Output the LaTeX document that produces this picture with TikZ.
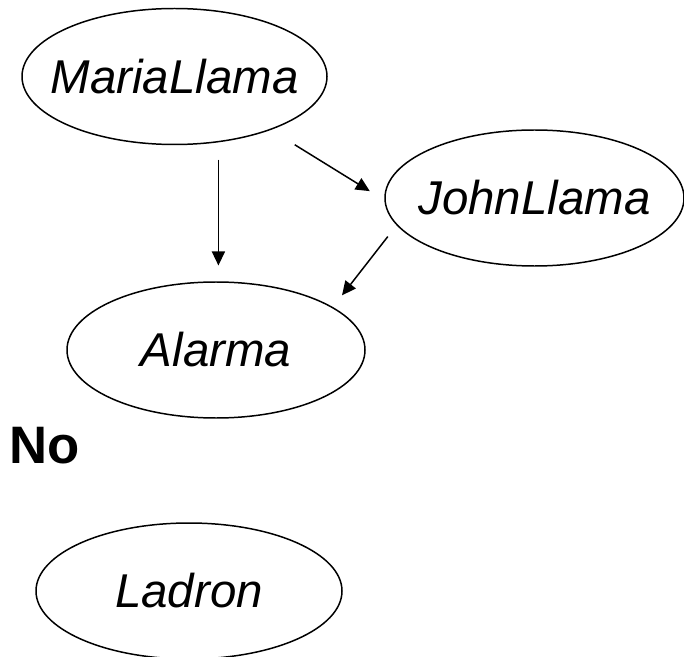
\documentclass[tikz,border=0pt]{standalone}
\usepackage{fontspec}
\setmainfont{Liberation Sans}
\usetikzlibrary{shapes.geometric,arrows.meta}
\tikzset{
  bnode/.style={draw, ellipse, line width=0.85pt, inner xsep=-2.2cm, inner ysep=0pt, outer sep=0pt,
    minimum height=2.72cm, font=\fontsize{27}{32}\selectfont\itshape},
  arr/.style={line width=0.85pt, -{Triangle[length=0.28cm,width=0.26cm]}}
}
\begin{document}
\begin{tikzpicture}
    \clip (0,0) rectangle (13.68,-13.14);

    \node[bnode, minimum width=6.10cm] (maria) at (3.49,-1.53) {MariaLlama};
    \node[bnode, minimum width=5.98cm] (john) at (10.69,-3.96) {JohnLlama};
    \node[bnode, minimum width=5.96cm] (alarma) at (4.32,-7.00) {Alarma};
    \node[anchor=base west, font=\fontsize{30}{34}\selectfont\bfseries] (no) at (0.06,-9.26) {No};
    \node[bnode, minimum width=6.12cm] (ladron) at (3.78,-11.82) {Ladron};

    \draw[arr, shorten <=0.36cm, shorten >=0.33cm] (maria.-56) -- (maria.-56 |- alarma.north);
    \draw[arr, shorten <=0.58cm, shorten >=0.36cm] (maria.-29) -- (john.181);
    \draw[arr, shorten <=0.30cm, shorten >=0.31cm] (john.191) -- (alarma.20);
\end{tikzpicture}
\end{document}
